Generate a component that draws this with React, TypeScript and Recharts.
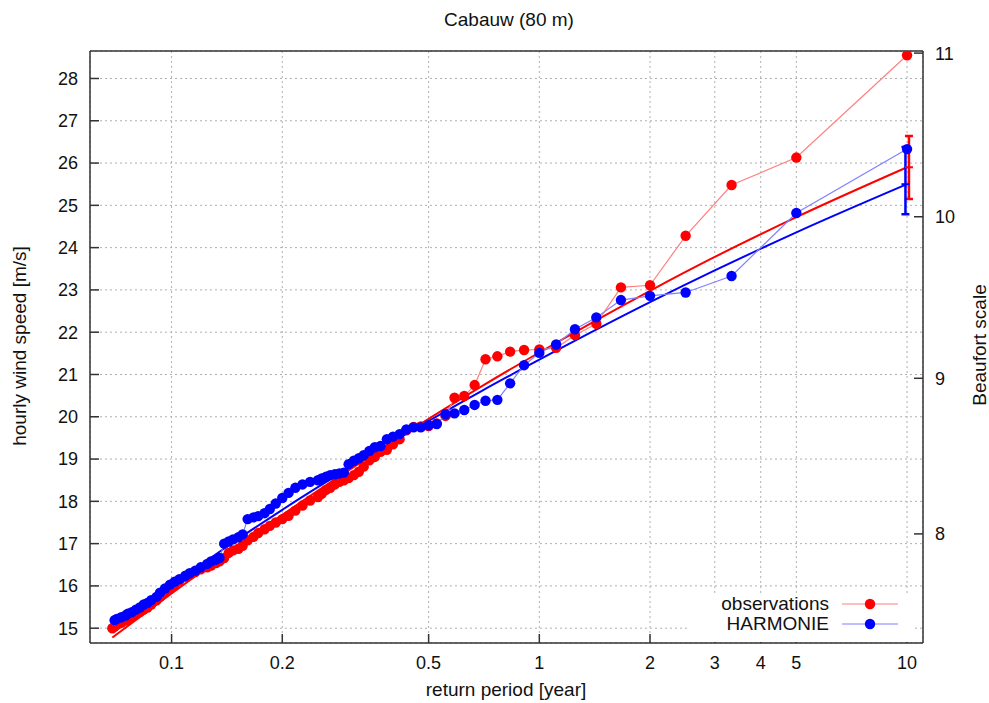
import { ComposedChart, Scatter, Line, XAxis, YAxis, CartesianGrid, ErrorBar, Legend } from 'recharts'

const FONT = '"Liberation Sans", Arial, sans-serif'
const RED = '#ff0000'
const BLUE = '#0000ff'
const RED_LIGHT = '#ff8080'
const BLUE_LIGHT = '#8080ff'
const AXIS = '#333333'

// return period [year] of the ranked annual values
const returnPeriod = [
  10, 5, 3.333, 2.5, 2, 1.667, 1.429, 1.25, 1.111, 1,
  0.909, 0.833, 0.769, 0.714, 0.667, 0.625, 0.588, 0.556, 0.526, 0.5,
  0.476, 0.455, 0.435, 0.417, 0.4, 0.385, 0.37, 0.357, 0.345, 0.333,
  0.323, 0.313, 0.303, 0.294, 0.286, 0.278, 0.27, 0.263, 0.256, 0.25,
  0.238, 0.227, 0.217, 0.208, 0.2, 0.192, 0.185, 0.179, 0.172, 0.167,
  0.161, 0.156, 0.152, 0.147, 0.143, 0.139, 0.135, 0.132, 0.128, 0.125,
  0.12, 0.116, 0.112, 0.109, 0.105, 0.102, 0.099, 0.096, 0.093, 0.091,
  0.088, 0.086, 0.084, 0.082, 0.08, 0.078, 0.076, 0.075, 0.073, 0.071, 0.07,
  0.069,
]

// hourly wind speed [m/s]
const observed = [
  28.55, 26.13, 25.48, 24.28, 23.11, 23.06, 22.2, 21.93, 21.63, 21.59,
  21.58, 21.54, 21.43, 21.36, 20.75, 20.49, 20.45, 20.02, 19.84, 19.78,
  19.77, 19.76, 19.68, 19.47, 19.35, 19.22, 19.17, 19.05, 18.97, 18.82,
  18.7, 18.62, 18.55, 18.5, 18.46, 18.4, 18.32, 18.27, 18.18, 18.1,
  18.02, 17.9, 17.78, 17.66, 17.58, 17.5, 17.42, 17.34, 17.25, 17.16,
  17.08, 16.95, 16.88, 16.84, 16.78, 16.66, 16.58, 16.54, 16.48, 16.44,
  16.39, 16.33, 16.26, 16.21, 16.12, 16.02, 15.94, 15.85, 15.74, 15.66,
  15.56, 15.49, 15.44, 15.38, 15.33, 15.27, 15.22, 15.18, 15.13, 15.08, 15.04,
  15.0,
]

const harmonie = [
  26.33, 24.82, 23.33, 22.94, 22.86, 22.76, 22.35, 22.07, 21.71, 21.51,
  21.22, 20.79, 20.4, 20.38, 20.28, 20.16, 20.08, 20.06, 19.83, 19.8,
  19.75, 19.75, 19.7, 19.59, 19.53, 19.47, 19.31, 19.28, 19.19, 19.09,
  19.02, 18.96, 18.88, 18.68, 18.66, 18.64, 18.62, 18.58, 18.54, 18.5,
  18.46, 18.4, 18.32, 18.2, 18.08, 17.95, 17.82, 17.72, 17.65, 17.62,
  17.58, 17.22, 17.15, 17.1, 17.05, 17.0, 16.66, 16.62, 16.58, 16.52,
  16.44, 16.36, 16.3, 16.24, 16.16, 16.1, 16.03, 15.94, 15.84, 15.74,
  15.66, 15.6, 15.56, 15.49, 15.44, 15.38, 15.34, 15.3, 15.26, 15.22, 15.19,
  null,
]

// fitted return-value curves
const obsFitPeriod = [0.069, 0.1, 0.15, 0.2, 0.3, 0.5, 0.7, 1, 2, 3, 5, 10]
const obsFit = [14.78, 15.82, 16.92, 17.68, 18.71, 19.95, 20.73, 21.52, 22.98, 23.78, 24.72, 25.9]
const harFitPeriod = [0.07, 0.1, 0.15, 0.2, 0.3, 0.5, 0.7, 1, 2, 3, 5, 10]
const harFit = [15.1, 16.02, 17.08, 17.8, 18.76, 19.9, 20.62, 21.35, 22.71, 23.46, 24.36, 25.5]

// 10-year return value with uncertainty [down, up]
const obsErrPeriod = 10.12
const obsErrValue = 25.9
const obsErr = [0.75, 0.74]
const harErrPeriod = 9.9
const harErrValue = 25.5
const harErr = [0.71, 0.88]

const seriesNames = ['observations', 'HARMONIE']
const periodTicks = [0.1, 0.2, 0.5, 1, 2, 3, 4, 5, 10]
const speedTicks = [15, 16, 17, 18, 19, 20, 21, 22, 23, 24, 25, 26, 27, 28]
const beaufortNumbers = [8, 9, 10, 11]
const beaufortSpeeds = [17.23, 20.91, 24.73, 28.6]

const obsData = returnPeriod.map((T, i) => ({ T, v: observed[i] }))
const harData = returnPeriod
  .map((T, i) => ({ T, v: harmonie[i] }))
  .filter((d) => d.v != null)
const obsFitData = obsFitPeriod.map((T, i) => ({ T, v: obsFit[i] }))
const harFitData = harFitPeriod.map((T, i) => ({ T, v: harFit[i] }))
const obsErrData = [{ T: obsErrPeriod, v: obsErrValue, err: obsErr }]
const harErrData = [{ T: harErrPeriod, v: harErrValue, err: harErr }]

const periodDomain = [0.06, 11.05]
const speedDomain = [14.65, 28.65]

const tickStyle = { fill: '#111', fontSize: 18, fontFamily: FONT }
const axisLine = { stroke: AXIS, strokeWidth: 1.5 }
const DOT_R = 5.2

const dot = (color: string) => (p: any) => <circle cx={p.cx} cy={p.cy} r={DOT_R} fill={color} />
const midTick = (color: string) => (p: any) => (
  <line x1={p.cx - 4} x2={p.cx + 4} y1={p.cy} y2={p.cy} stroke={color} strokeWidth={2} />
)

function LegendBox() {
  const colors = [
    [RED, RED_LIGHT],
    [BLUE, BLUE_LIGHT],
  ]
  return (
    <div style={{ background: '#fff', width: 224, height: 48, paddingTop: 1, fontFamily: FONT, fontSize: 19 }}>
      {seriesNames.map((name, i) => (
        <div key={name} style={{ display: 'flex', alignItems: 'center', height: 20 }}>
          <span style={{ width: 141, textAlign: 'right', color: '#111', lineHeight: '20px' }}>{name}</span>
          <svg width={70} height={20} style={{ display: 'block' }}>
            <line x1={13} x2={69} y1={10} y2={10} stroke={colors[i][1]} strokeWidth={1.2} />
            <circle cx={41} cy={10} r={DOT_R} fill={colors[i][0]} />
          </svg>
        </div>
      ))}
    </div>
  )
}

const textBase: any = { position: 'absolute', fontFamily: FONT, fontSize: 19, color: '#111', textAlign: 'center', lineHeight: '22px', whiteSpace: 'nowrap' }

export default function App() {
  return (
    <div style={{ position: 'absolute', left: 0, top: 0, width: 989, height: 703, background: '#fff' }}>
      <ComposedChart width={989} height={703} margin={{ top: 50, right: 26, bottom: 20, left: 30 }}>
        <CartesianGrid xAxisId="period" yAxisId="speed" stroke="#b0b0b0" strokeDasharray="2 3" />
        <XAxis
          xAxisId="period"
          dataKey="T"
          type="number"
          scale="log"
          domain={periodDomain}
          allowDataOverflow
          ticks={periodTicks}
          tickFormatter={(v) => String(v)}
          tick={tickStyle}
          tickSize={-9}
          tickMargin={22}
          height={40}
          axisLine={axisLine}
          tickLine={axisLine}
        />
        <XAxis
          xAxisId="top"
          orientation="top"
          type="number"
          scale="log"
          domain={periodDomain}
          allowDataOverflow
          ticks={periodTicks}
          tick={false}
          tickSize={-9}
          height={1}
          axisLine={axisLine}
          tickLine={axisLine}
        />
        <YAxis
          yAxisId="speed"
          type="number"
          domain={speedDomain}
          allowDataOverflow
          ticks={speedTicks}
          tick={tickStyle}
          tickSize={-9}
          tickMargin={21}
          width={60}
          axisLine={axisLine}
          tickLine={axisLine}
        />
        <YAxis
          yAxisId="bft"
          orientation="right"
          type="number"
          domain={speedDomain}
          allowDataOverflow
          ticks={beaufortSpeeds}
          tickFormatter={(v) => String(beaufortNumbers[beaufortSpeeds.indexOf(v)])}
          tick={tickStyle}
          tickSize={-9}
          tickMargin={21}
          width={40}
          axisLine={axisLine}
          tickLine={axisLine}
        />
        <Scatter
          xAxisId="period"
          yAxisId="speed"
          data={obsData}
          dataKey="v"
          line={{ stroke: RED_LIGHT, strokeWidth: 1.2 }}
          shape={dot(RED)}
          isAnimationActive={false}
        />
        <Scatter
          xAxisId="period"
          yAxisId="speed"
          data={harData}
          dataKey="v"
          line={{ stroke: BLUE_LIGHT, strokeWidth: 1.2 }}
          shape={dot(BLUE)}
          isAnimationActive={false}
        />
        <Line
          xAxisId="period"
          yAxisId="speed"
          data={obsFitData}
          dataKey="v"
          type="monotone"
          stroke={RED}
          strokeWidth={2}
          dot={false}
          isAnimationActive={false}
        />
        <Line
          xAxisId="period"
          yAxisId="speed"
          data={harFitData}
          dataKey="v"
          type="monotone"
          stroke={BLUE}
          strokeWidth={2}
          dot={false}
          isAnimationActive={false}
        />
        <Scatter
          xAxisId="period"
          yAxisId="speed"
          data={obsErrData}
          dataKey="v"
          shape={midTick(RED)}
          isAnimationActive={false}
        >
          <ErrorBar dataKey="err" direction="y" stroke={RED} strokeWidth={2.5} width={4} />
        </Scatter>
        <Scatter
          xAxisId="period"
          yAxisId="speed"
          data={harErrData}
          dataKey="v"
          shape={midTick(BLUE)}
          isAnimationActive={false}
        >
          <ErrorBar dataKey="err" direction="y" stroke={BLUE} strokeWidth={2.5} width={4} />
        </Scatter>
        <Legend
          layout="vertical"
          align="center"
          verticalAlign="middle"
          content={() => <LegendBox />}
          wrapperStyle={{ left: 688, top: 593, width: 224, height: 48 }}
        />
      </ComposedChart>
      <div style={{ ...textBase, left: 409, top: 9, width: 200 }}>Cabauw (80 m)</div>
      <div style={{ ...textBase, left: 356, top: 679, width: 300 }}>return period [year]</div>
      <div style={{ ...textBase, left: -130, top: 335, width: 300, transform: 'rotate(-90deg)' }}>
        hourly wind speed [m/s]
      </div>
      <div style={{ ...textBase, left: 830, top: 334, width: 300, transform: 'rotate(-90deg)' }}>
        Beaufort scale
      </div>
    </div>
  )
}
